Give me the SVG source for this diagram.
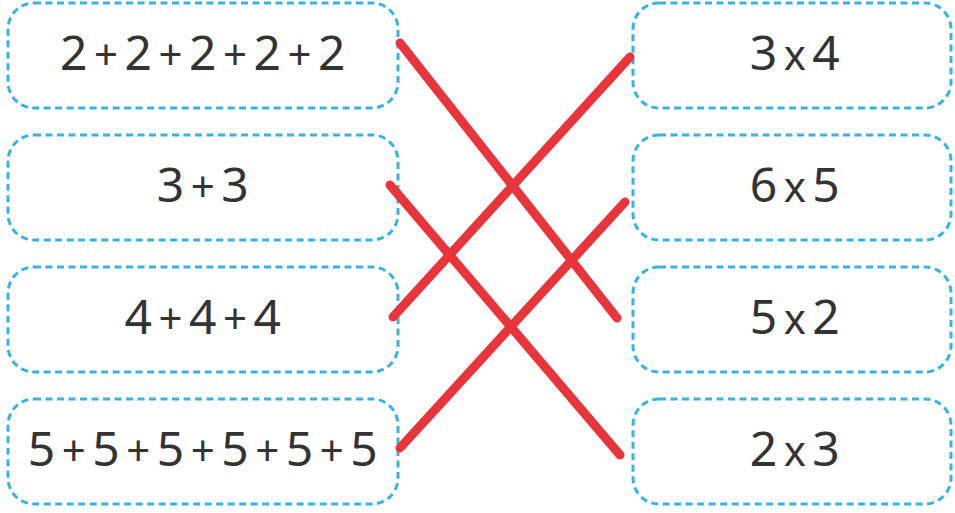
<svg xmlns="http://www.w3.org/2000/svg" width="955" height="513" viewBox="0 0 955 513">
<style>
.box{fill:#fff;stroke:#36b3e3;stroke-width:3;stroke-dasharray:7 4.5}
.t{font-family:"Noto Sans","DejaVu Sans",sans-serif;font-size:48px;fill:#333;text-anchor:middle;letter-spacing:6.5px}
.o{font-size:42px}
.c{stroke:#e8343b;stroke-width:9;stroke-linecap:round;fill:none}
</style>
<rect width="955" height="513" fill="#fff"/>
<g id="L1"><rect class="box" x="8" y="3" width="390" height="105" rx="26"/><text class="t" x="206" y="70">2<tspan class="o">+</tspan>2<tspan class="o">+</tspan>2<tspan class="o">+</tspan>2<tspan class="o">+</tspan>2</text></g>
<g id="L2"><rect class="box" x="8" y="135" width="390" height="105" rx="26"/><text class="t" x="206" y="202">3<tspan class="o">+</tspan>3</text></g>
<g id="L3"><rect class="box" x="8" y="267" width="390" height="105" rx="26"/><text class="t" x="206" y="334">4<tspan class="o">+</tspan>4<tspan class="o">+</tspan>4</text></g>
<g id="L4"><rect class="box" x="8" y="399" width="390" height="105" rx="26"/><text class="t" x="206" y="466">5<tspan class="o">+</tspan>5<tspan class="o">+</tspan>5<tspan class="o">+</tspan>5<tspan class="o">+</tspan>5<tspan class="o">+</tspan>5</text></g>
<g id="R1"><rect class="box" x="633" y="3" width="318" height="105" rx="26"/><text class="t" x="798" y="70">3<tspan class="o">x</tspan>4</text></g>
<g id="R2"><rect class="box" x="633" y="135" width="318" height="105" rx="26"/><text class="t" x="798" y="202">6<tspan class="o">x</tspan>5</text></g>
<g id="R3"><rect class="box" x="633" y="267" width="318" height="105" rx="26"/><text class="t" x="798" y="334">5<tspan class="o">x</tspan>2</text></g>
<g id="R4"><rect class="box" x="633" y="399" width="318" height="105" rx="26"/><text class="t" x="798" y="466">2<tspan class="o">x</tspan>3</text></g>
<g id="connectors">
<line class="c" x1="400" y1="43" x2="617" y2="318"/>
<line class="c" x1="630" y1="57" x2="393" y2="317"/>
<line class="c" x1="390" y1="185" x2="620" y2="455"/>
<line class="c" x1="625" y1="202" x2="400" y2="448"/>
</g>
</svg>
